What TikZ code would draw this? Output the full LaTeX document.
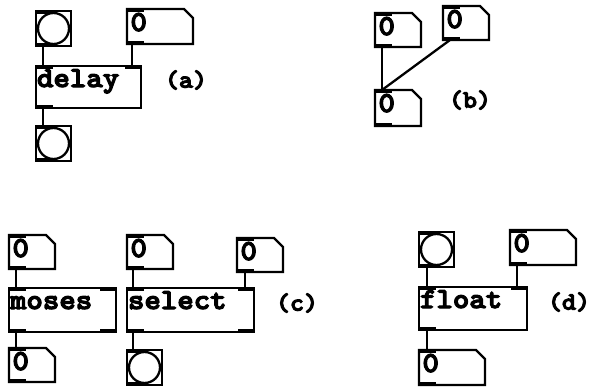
\documentclass[tikz,border=0pt]{standalone}
\usepackage{fontspec}
\newfontfamily\pdfont{lmmonolt10-bold.otf}[FakeStretch=1.08,FakeBold=4]
\newfontfamily\pdlabfont{lmmonolt10-bold.otf}[FakeStretch=1.07,FakeBold=4]
\newcommand\pdtext{\pdfont\fontsize{29}{29}\selectfont}
\newcommand\pdlab{\pdlabfont\fontsize{25}{25}\selectfont}
\newcommand\pdin[2]{\fill ([yshift=1.2pt]#1) rectangle ++(#2,4.2);}
\newcommand\pdout[2]{\fill ([yshift=-1.2pt]#1) rectangle ++(#2,-4.2);}
\newcommand\pdnum[1]{\draw[line width=2.3pt] (#1.north west) -- ([xshift=-9pt]#1.north east)
  -- ([yshift=-9pt]#1.north east) -- (#1.south east) -- (#1.south west) -- cycle;}
\tikzset{
  box/.style={line width=2.3pt, outer sep=0pt, anchor=north west, rectangle,
    inner xsep=1pt, inner ysep=2pt, align=left, font=\pdtext},
  objbox/.style={box, draw, text height=19pt, text depth=19pt},
  numbox/.style={box, inner xsep=3.5pt, text height=20pt, text depth=10pt, text width=39pt},
  widenum/.style={numbox, text width=59pt, text depth=11pt},
  bang/.style={draw, line width=2.3pt, outer sep=0pt, anchor=north west, inner sep=0pt,
    minimum size=35pt,
    path picture={\draw[line width=2.3pt] (path picture bounding box.center) circle[radius=15.5pt];}},
  wire/.style={line width=2.3pt},
  lab/.style={font=\pdlab, inner sep=0pt}
}
\begin{document}
\begin{tikzpicture}[x=1pt,y=-1pt]
\useasboundingbox (0,0) rectangle (591,388);
% (a)
\node[bang] (bangA1) at (36,11) {};
\node[widenum] (numA) at (127,9) {0};
\node[objbox, text width=103pt] (delay) at (36,66) {delay};
\node[bang] (bangA2) at (36,126) {};
\node[lab] (la) at (186,80) {(a)};
% (b)
\node[numbox] (numB1) at (375,13) {0};
\node[numbox] (numB2) at (443,6) {0};
\node[numbox, text depth=12pt] (numB3) at (375,90) {0};
\node[lab] (lb) at (470,100) {(b)};
% (c)
\node[numbox] (numC1) at (9,235) {0};
\node[objbox, text width=105pt, text depth=21pt] (moses) at (9,288) {moses};
\node[numbox] (numC2) at (9,348) {0};
\node[numbox] (numC3) at (127,235) {0};
\node[numbox] (numC4) at (237,238) {0};
\node[objbox, text width=125pt, text depth=21pt] (select) at (127,288) {select};
\node[bang] (bangC) at (127,350) {};
\node[lab] (lc) at (297,303) {(c)};
% (d)
\node[bang] (bangD) at (419,232) {};
\node[widenum] (numD1) at (510,230) {0};
\node[objbox, text width=106pt, text depth=20pt] (float) at (419,287) {float};
\node[widenum] (numD2) at (419,350) {0};
\node[lab] (ld) at (569,302) {(d)};
% number box outlines
\foreach \n in {numA,numB1,numB2,numB3,numC1,numC2,numC3,numC4,numD1,numD2}{\pdnum{\n}}
% inlets / outlets
\foreach \n in {bangA1,bangA2,numA,delay,numB1,numB2,numB3,numC1,numC2,numC3,numC4,moses,select,bangC,bangD,numD1,float,numD2}{
  \pdin{\n.north west}{17}
  \pdout{\n.south west}{17}
}
\foreach \n in {delay,moses,select,float}{\pdin{\n.north east}{-16}}
\foreach \n in {moses,select}{\pdout{\n.south east}{-16}}
% wires
\draw[wire] ([xshift=7pt]bangA1.south west) -- ([xshift=7pt]delay.north west);
\draw[wire] ([xshift=5pt]numA.south west) -- ([xshift=-9pt]delay.north east);
\draw[wire] ([xshift=7pt]delay.south west) -- ([xshift=7pt]bangA2.north west);
\draw[wire] ([xshift=7pt]numB1.south west) -- ([xshift=7pt]numB3.north west);
\draw[wire] ([xshift=7pt]numB2.south west) -- ([xshift=7pt]numB3.north west);
\draw[wire] ([xshift=7pt]numC1.south west) -- ([xshift=7pt]moses.north west);
\draw[wire] ([xshift=7pt]moses.south west) -- ([xshift=7pt]numC2.north west);
\draw[wire] ([xshift=6pt]numC3.south west) -- ([xshift=6pt]select.north west);
\draw[wire] ([xshift=8pt]numC4.south west) -- ([xshift=-9pt]select.north east);
\draw[wire] ([xshift=6pt]select.south west) -- ([xshift=6pt]bangC.north west);
\draw[wire] ([xshift=8pt]bangD.south west) -- ([xshift=8pt]float.north west);
\draw[wire] ([xshift=7pt]numD1.south west) -- ([xshift=-10pt]float.north east);
\draw[wire] ([xshift=8pt]float.south west) -- ([xshift=8pt]numD2.north west);
\end{tikzpicture}
\end{document}
